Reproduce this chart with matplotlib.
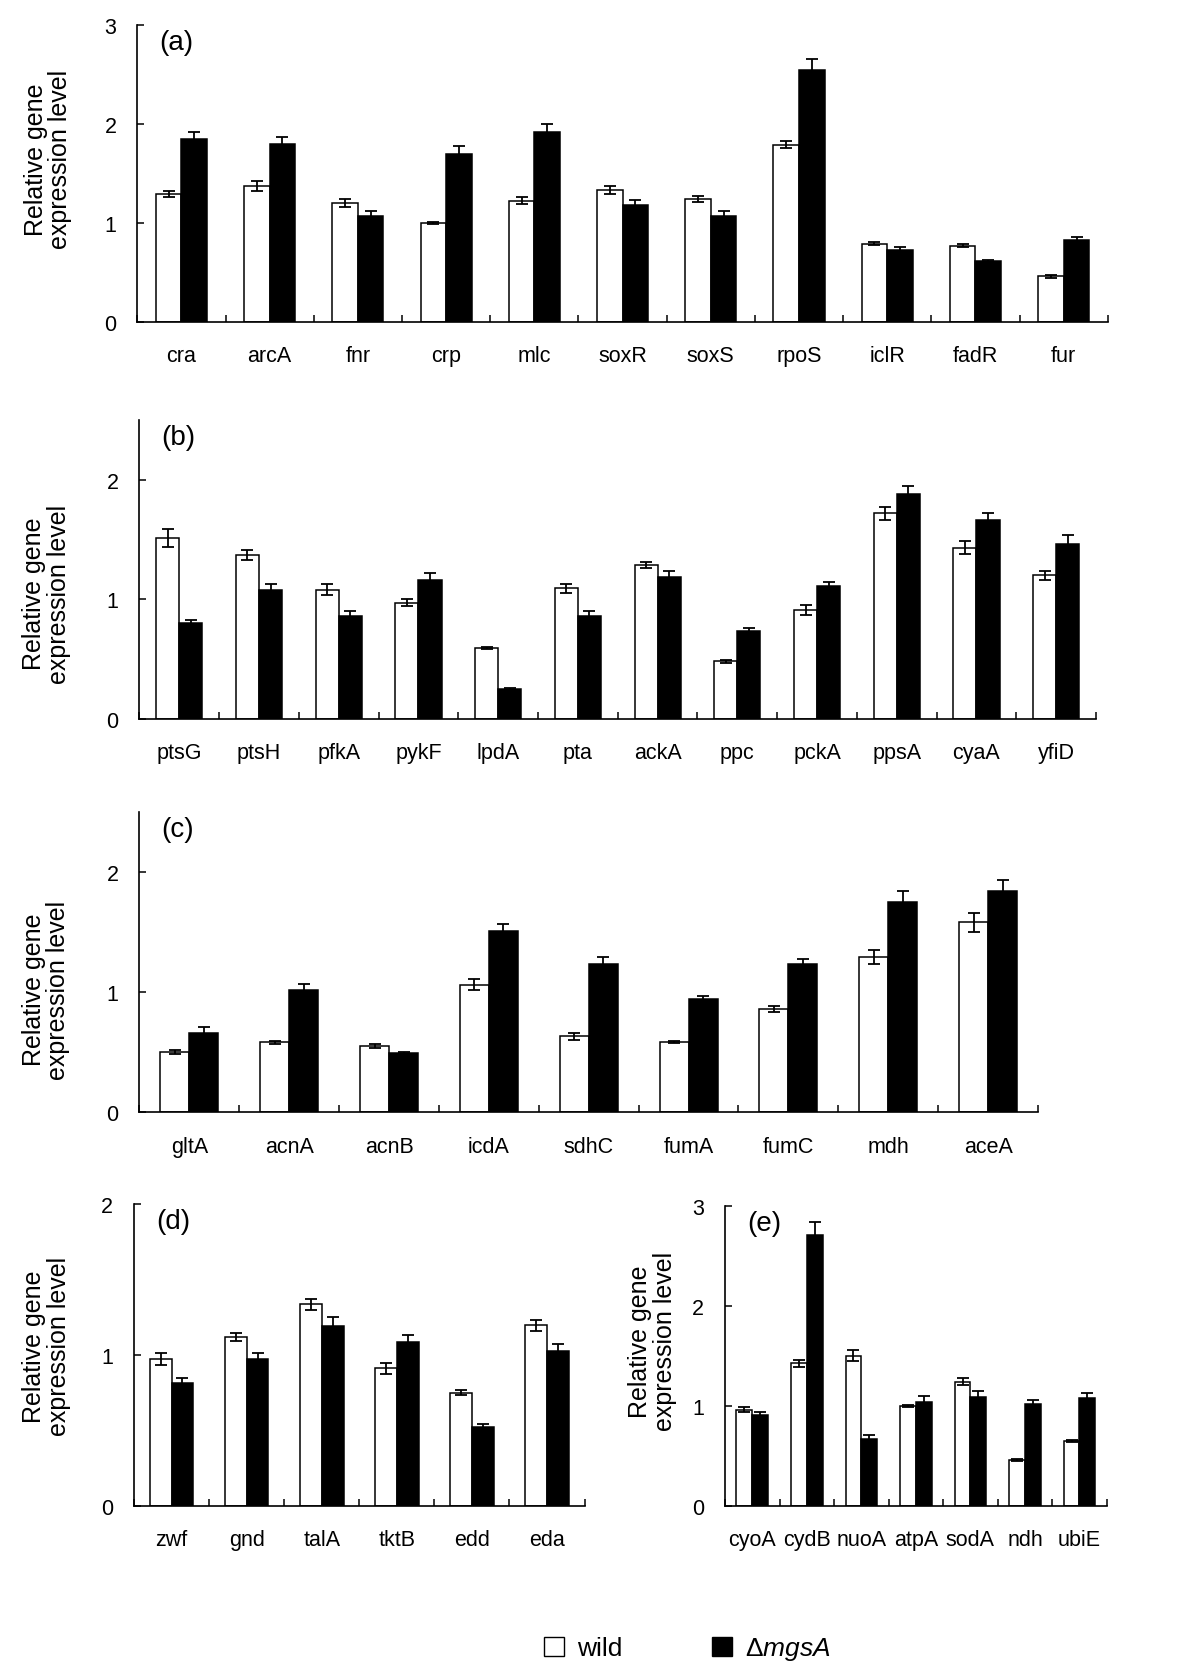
import numpy as np
import matplotlib
matplotlib.use('Agg')
import matplotlib.pyplot as plt
from matplotlib.patches import Patch

plt.rcParams['font.family'] = ['Liberation Sans', 'DejaVu Sans']
plt.rcParams['mathtext.fontset'] = 'custom'
plt.rcParams['mathtext.rm'] = 'Liberation Sans'
plt.rcParams['mathtext.it'] = 'Liberation Sans:italic'

# (a) regulators
a_genes = ['cra', 'arcA', 'fnr', 'crp', 'mlc', 'soxR', 'soxS', 'rpoS', 'iclR', 'fadR', 'fur']
a_wild = [1.29, 1.37, 1.20, 1.00, 1.22, 1.33, 1.24, 1.79, 0.79, 0.77, 0.46]
a_wild_err = [0.03, 0.05, 0.04, 0.01, 0.035, 0.04, 0.03, 0.035, 0.015, 0.015, 0.015]
a_mut = [1.85, 1.80, 1.07, 1.69, 1.92, 1.18, 1.07, 2.54, 0.72, 0.61, 0.83]
a_mut_err = [0.07, 0.07, 0.05, 0.09, 0.075, 0.05, 0.05, 0.11, 0.03, 0.015, 0.03]

# (b) glycolysis etc.
b_genes = ['ptsG', 'ptsH', 'pfkA', 'pykF', 'lpdA', 'pta', 'ackA', 'ppc', 'pckA', 'ppsA', 'cyaA', 'yfiD']
b_wild = [1.51, 1.37, 1.08, 0.97, 0.59, 1.09, 1.29, 0.48, 0.91, 1.72, 1.43, 1.20]
b_wild_err = [0.075, 0.045, 0.045, 0.03, 0.01, 0.04, 0.025, 0.01, 0.045, 0.055, 0.055, 0.035]
b_mut = [0.80, 1.08, 0.86, 1.16, 0.25, 0.86, 1.19, 0.73, 1.11, 1.88, 1.66, 1.46]
b_mut_err = [0.025, 0.045, 0.045, 0.06, 0.01, 0.045, 0.045, 0.03, 0.03, 0.07, 0.06, 0.075]

# (c) TCA cycle
c_genes = ['gltA', 'acnA', 'acnB', 'icdA', 'sdhC', 'fumA', 'fumC', 'mdh', 'aceA']
c_wild = [0.50, 0.58, 0.55, 1.06, 0.63, 0.58, 0.86, 1.29, 1.58]
c_wild_err = [0.015, 0.01, 0.015, 0.045, 0.03, 0.008, 0.025, 0.06, 0.08]
c_mut = [0.66, 1.02, 0.49, 1.51, 1.23, 0.94, 1.23, 1.75, 1.84]
c_mut_err = [0.045, 0.045, 0.01, 0.055, 0.06, 0.03, 0.045, 0.095, 0.09]

# (d) PP pathway
d_genes = ['zwf', 'gnd', 'talA', 'tktB', 'edd', 'eda']
d_wild = [0.975, 1.12, 1.335, 0.91, 0.75, 1.195]
d_wild_err = [0.04, 0.027, 0.036, 0.038, 0.016, 0.038]
d_mut = [0.815, 0.975, 1.19, 1.085, 0.52, 1.025]
d_mut_err = [0.033, 0.036, 0.058, 0.047, 0.022, 0.047]

# (e) respiratory chain
e_genes = ['cyoA', 'cydB', 'nuoA', 'atpA', 'sodA', 'ndh', 'ubiE']
e_wild = [0.96, 1.425, 1.50, 1.00, 1.24, 0.46, 0.65]
e_wild_err = [0.023, 0.037, 0.054, 0.012, 0.033, 0.012, 0.012]
e_mut = [0.91, 2.71, 0.67, 1.04, 1.09, 1.02, 1.08]
e_mut_err = [0.027, 0.127, 0.037, 0.055, 0.054, 0.037, 0.05]

fig = plt.figure(figsize=(12, 16.81), dpi=100)

# [left, bottom, width, height], ymax, yticks, panel label, ylabel x, ylabel y
panels = [
    ([0.1144, 0.8080, 0.8088, 0.1767], 3.0, [0, 1, 2, 3], '(a)', -0.092, 0.55,
     a_genes, a_wild, a_wild_err, a_mut, a_mut_err),
    ([0.1162, 0.5719, 0.7972, 0.1776], 2.5, [0, 1, 2], '(b)', -0.097, 0.42,
     b_genes, b_wild, b_wild_err, b_mut, b_mut_err),
    ([0.1162, 0.3379, 0.7488, 0.1785], 2.5, [0, 1, 2], '(c)', -0.104, 0.41,
     c_genes, c_wild, c_wild_err, c_mut, c_mut_err),
    ([0.1117, 0.1037, 0.3754, 0.1795], 2.0, [0, 1, 2], '(d)', -0.195, 0.53,
     d_genes, d_wild, d_wild_err, d_mut, d_mut_err),
    ([0.6042, 0.1037, 0.3181, 0.1783], 3.0, [0, 1, 2, 3], '(e)', -0.19, 0.55,
     e_genes, e_wild, e_wild_err, e_mut, e_mut_err),
]

w = 0.29
for rect, ymax, yt, tag, lx, ly, genes, wild, wild_err, mut, mut_err in panels:
    ax = fig.add_axes(rect)
    n = len(genes)
    x = np.arange(n) + 0.5
    ax.bar(x - w / 2, wild, w, color='white', edgecolor='black', linewidth=1.1)
    ax.bar(x + w / 2, mut, w, color='black', edgecolor='black', linewidth=1.1)
    ax.errorbar(x - w / 2, wild, yerr=wild_err, fmt='none', ecolor='black',
                elinewidth=1.3, capsize=4.5, capthick=1.3)
    ax.errorbar(x + w / 2, mut, yerr=mut_err, fmt='none', ecolor='black',
                elinewidth=1.3, capsize=4.5, capthick=1.3)

    ax.set_xlim(0, n)
    ax.set_ylim(0, ymax)
    ax.set_yticks(yt)
    ax.set_xticks(x)
    ax.set_xticklabels(genes)
    ax.set_xticks(np.arange(n + 1), minor=True)
    ax.tick_params(axis='x', which='major', length=0, pad=17, labelsize=15.5)
    ax.tick_params(axis='x', which='minor', direction='in', length=5, width=1.1)
    ax.tick_params(axis='y', direction='in', length=5, width=1.1, pad=15, labelsize=15.5)

    for s in ['top', 'right']:
        ax.spines[s].set_visible(False)
    for s in ['left', 'bottom']:
        ax.spines[s].set_linewidth(1.2)

    ax.text(lx, ly, 'Relative gene\nexpression level', transform=ax.transAxes,
            rotation=90, ha='center', va='center', fontsize=18, multialignment='center',
            linespacing=1.05)
    ax.annotate(tag, xy=(0, 1), xycoords='axes fraction', xytext=(22, -17),
                textcoords='offset pixels', ha='left', va='center', fontsize=20)

handles = [Patch(facecolor='white', edgecolor='black', linewidth=1.0),
           Patch(facecolor='black', edgecolor='black')]
fig.legend(handles, ['wild', r'$\Delta\mathit{mgsA}$'], loc='center',
           bbox_to_anchor=(0.573, 1 - 1650 / 1681), ncol=2, frameon=False,
           fontsize=19, handlelength=0.75, handleheight=0.75, handletextpad=0.5,
           columnspacing=3.4)

fig.savefig('out.png', dpi=100, facecolor='white')
